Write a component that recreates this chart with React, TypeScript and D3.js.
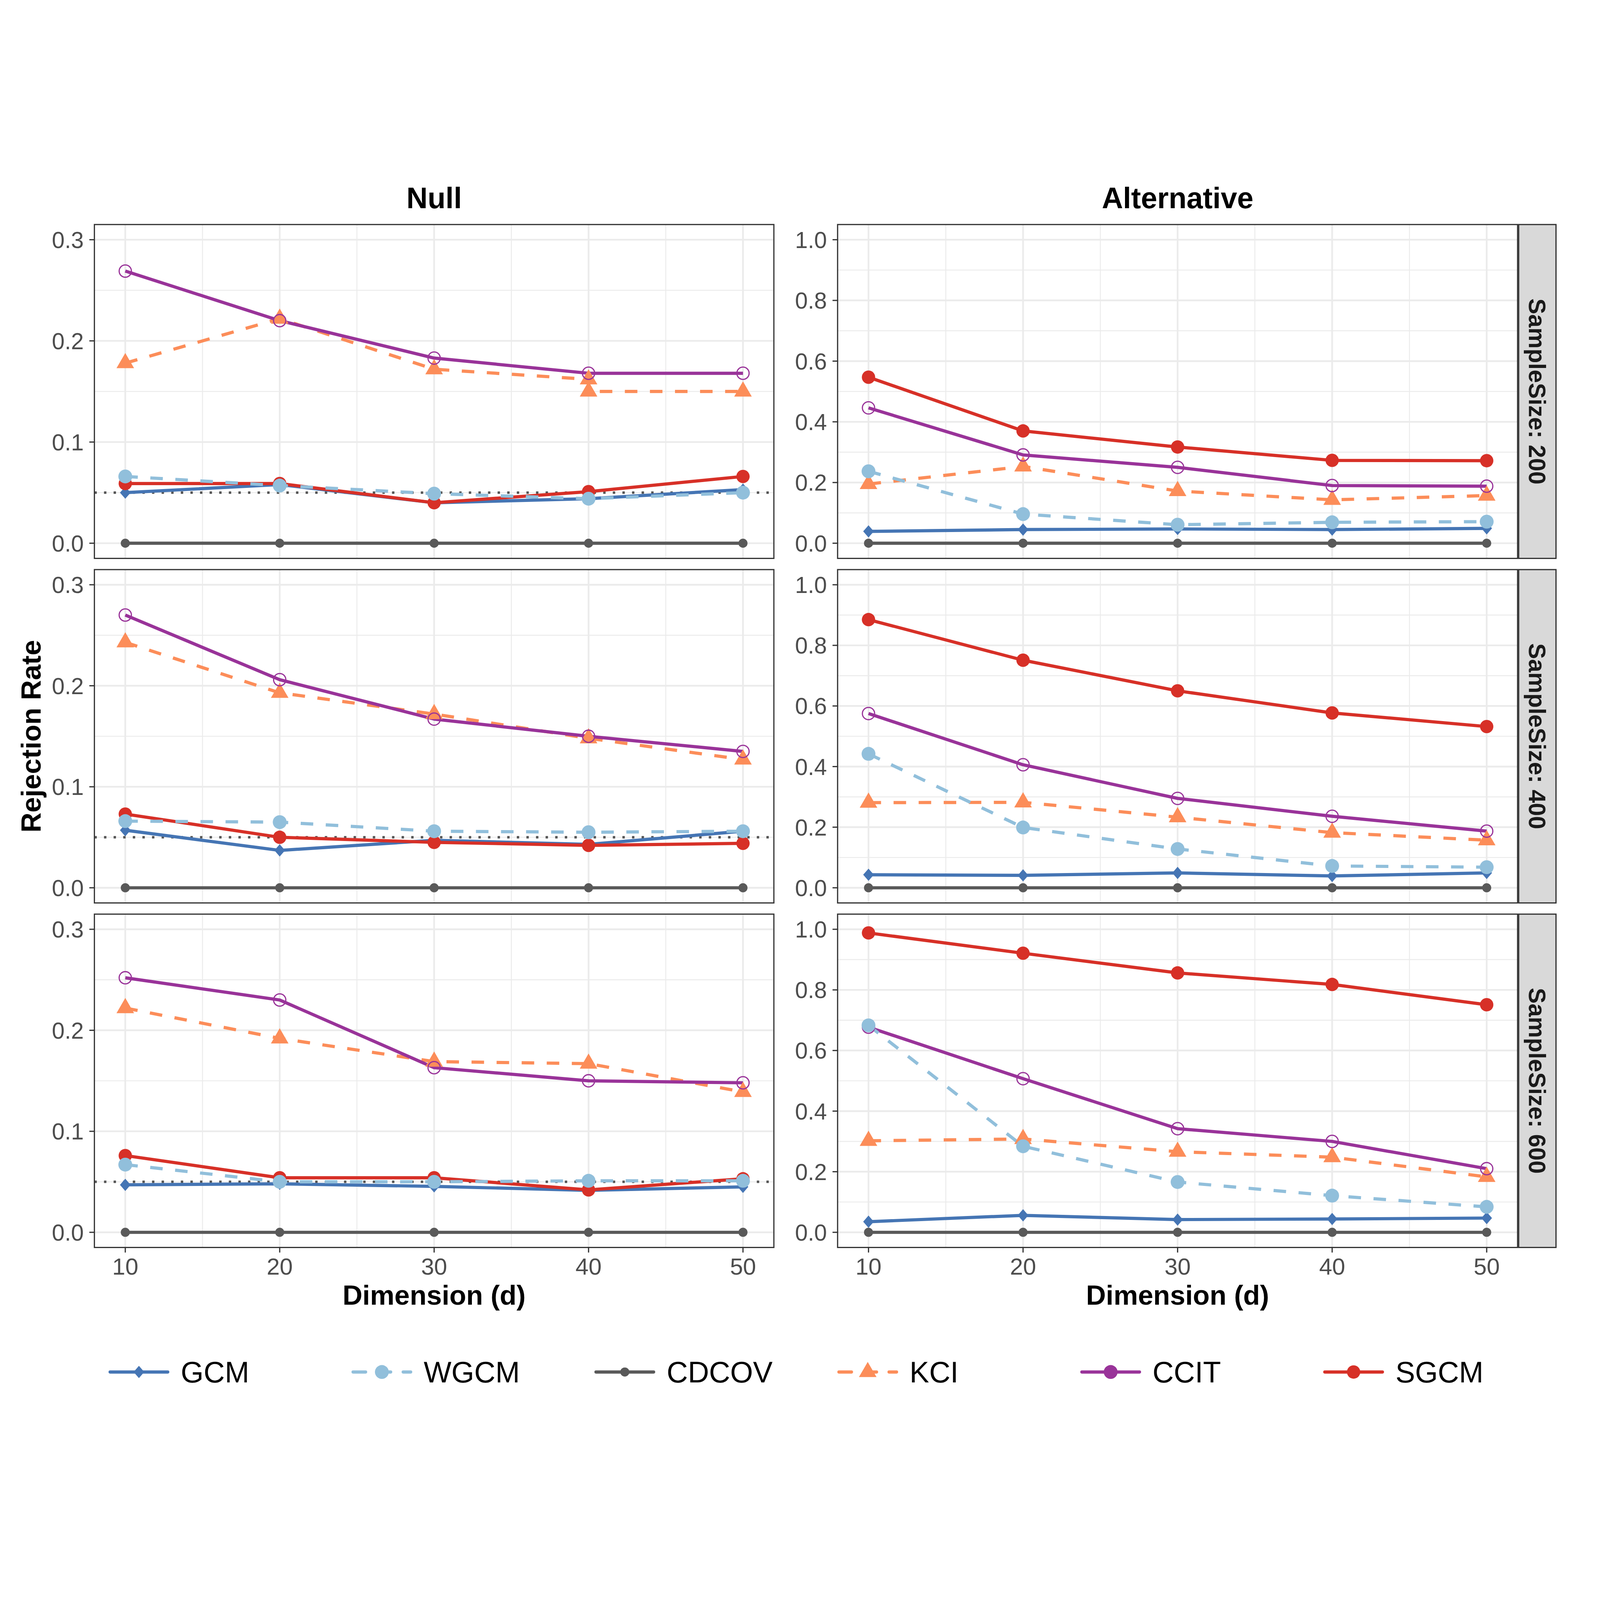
import React from "react";
import * as d3 from "d3";

// ---------- data ----------
const dims = [10, 20, 30, 40, 50];
const kciNull200Dims = [10, 20, 30, 40, 40, 50];
const hypotheses = ["Null", "Alternative"];
const sampleSizes = [200, 400, 600];
const methods = ["GCM", "WGCM", "CDCOV", "KCI", "CCIT", "SGCM"];
const drawOrder = ["CDCOV", "GCM", "KCI", "CCIT", "SGCM", "WGCM"];
const xTicks = [10, 20, 30, 40, 50];
const xMinor = [15, 25, 35, 45];
const nullTicks = [0, 0.1, 0.2, 0.3];
const nullMinor = [0.05, 0.15, 0.25];
const altTicks = [0, 0.2, 0.4, 0.6, 0.8, 1.0];
const altMinor = [0.1, 0.3, 0.5, 0.7, 0.9];
const nominalLevel = 0.05;

// rows: sample size 200, 400, 600
const gcmNull = [
  [0.050, 0.058, 0.040, 0.044, 0.053],
  [0.057, 0.037, 0.047, 0.043, 0.056],
  [0.047, 0.048, 0.0455, 0.0415, 0.045],
];
const gcmAlt = [
  [0.039, 0.045, 0.047, 0.045, 0.049],
  [0.043, 0.041, 0.049, 0.039, 0.049],
  [0.035, 0.056, 0.042, 0.044, 0.047],
];
const wgcmNull = [
  [0.066, 0.057, 0.049, 0.044, 0.050],
  [0.066, 0.065, 0.056, 0.055, 0.056],
  [0.067, 0.050, 0.050, 0.051, 0.051],
];
const wgcmAlt = [
  [0.237, 0.096, 0.061, 0.069, 0.071],
  [0.442, 0.199, 0.128, 0.072, 0.068],
  [0.683, 0.284, 0.166, 0.121, 0.084],
];
const cdcovNull = [
  [0, 0, 0, 0, 0],
  [0, 0, 0, 0, 0],
  [0, 0, 0, 0, 0],
];
const cdcovAlt = [
  [0, 0, 0, 0, 0],
  [0, 0, 0, 0, 0],
  [0, 0, 0, 0, 0],
];
const kciNull = [
  [0.178, 0.222, 0.172, 0.162, 0.150, 0.150],
  [0.243, 0.193, 0.172, 0.148, 0.127],
  [0.222, 0.192, 0.169, 0.167, 0.139],
];
const kciAlt = [
  [0.195, 0.253, 0.172, 0.143, 0.157],
  [0.281, 0.282, 0.233, 0.182, 0.157],
  [0.302, 0.308, 0.266, 0.248, 0.183],
];
const ccitNull = [
  [0.269, 0.220, 0.183, 0.168, 0.168],
  [0.270, 0.206, 0.167, 0.150, 0.135],
  [0.252, 0.230, 0.163, 0.150, 0.148],
];
const ccitAlt = [
  [0.446, 0.291, 0.250, 0.190, 0.188],
  [0.575, 0.406, 0.295, 0.236, 0.187],
  [0.677, 0.507, 0.342, 0.300, 0.210],
];
const sgcmNull = [
  [0.059, 0.059, 0.040, 0.051, 0.066],
  [0.073, 0.050, 0.045, 0.042, 0.044],
  [0.076, 0.054, 0.054, 0.042, 0.053],
];
const sgcmAlt = [
  [0.547, 0.370, 0.317, 0.273, 0.272],
  [0.885, 0.751, 0.650, 0.577, 0.532],
  [0.988, 0.921, 0.856, 0.818, 0.751],
];

const valueTable: Record<string, number[][][]> = {
  GCM: [gcmNull, gcmAlt],
  WGCM: [wgcmNull, wgcmAlt],
  CDCOV: [cdcovNull, cdcovAlt],
  KCI: [kciNull, kciAlt],
  CCIT: [ccitNull, ccitAlt],
  SGCM: [sgcmNull, sgcmAlt],
};

const colors: Record<string, string> = {
  GCM: "#4575B4",
  WGCM: "#91BFDB",
  CDCOV: "#595959",
  KCI: "#FC8D59",
  CCIT: "#993399",
  SGCM: "#D73027",
};
const dashed: Record<string, boolean> = {
  GCM: false, WGCM: true, CDCOV: false, KCI: true, CCIT: false, SGCM: false,
};

// ---------- layout ----------
const W = 6000;
const H = 4750;
const colX = [[354, 2902], [3141, 5691]];
const rowY = [[217, 1469], [1511, 2761], [2803, 4053]];
const FONT = "'Liberation Sans', Arial, Helvetica, sans-serif";

function Marker({ m, x, y, legend }: { m: string; x: number; y: number; legend?: boolean }) {
  const c = colors[m];
  if (m === "GCM") {
    const h = 23, w = 20;
    return <path d={`M${x},${y - h}L${x + w},${y}L${x},${y + h}L${x - w},${y}Z`} fill={c} />;
  }
  if (m === "WGCM") return <circle cx={x} cy={y} r={26} fill={c} />;
  if (m === "CDCOV") return <circle cx={x} cy={y} r={17} fill={c} />;
  if (m === "SGCM") return <circle cx={x} cy={y} r={25} fill={c} />;
  if (m === "KCI") {
    return <path d={`M${x},${y - 38}L${x + 33},${y + 19}L${x - 33},${y + 19}Z`} fill={c} />;
  }
  if (m === "CCIT") {
    if (legend) return <circle cx={x} cy={y} r={26} fill={c} />;
    return <circle cx={x} cy={y} r={23} fill="none" stroke={c} strokeWidth={4.5} />;
  }
  return null;
}

function Panel({ h, r }: { h: number; r: number }) {
  const [x0, x1] = colX[h];
  const [y0, y1] = rowY[r];
  const x = d3.scaleLinear().domain([8, 52]).range([x0, x1]);
  const isNull = h === 0;
  const y = d3.scaleLinear().domain(isNull ? [-0.015, 0.315] : [-0.05, 1.05]).range([y1, y0]);
  const ticks = isNull ? nullTicks : altTicks;
  const minor = isNull ? nullMinor : altMinor;
  const grid = "#EBEBEB";

  const seriesFor = (m: string) => {
    const vals = valueTable[m][h][r];
    const xs = vals.length === dims.length ? dims : kciNull200Dims;
    return vals.map((v, i) => [xs[i], v] as [number, number]);
  };
  const line = d3.line<[number, number]>().x((d) => x(d[0])).y((d) => y(d[1]));

  return (
    <g>
      <rect x={x0} y={y0} width={x1 - x0} height={y1 - y0} fill="#FFFFFF" />
      {minor.map((t) => (
        <line key={"hm" + t} x1={x0} x2={x1} y1={y(t)} y2={y(t)} stroke={grid} strokeWidth={3.5} />
      ))}
      {xMinor.map((t) => (
        <line key={"vm" + t} x1={x(t)} x2={x(t)} y1={y0} y2={y1} stroke={grid} strokeWidth={3.5} />
      ))}
      {ticks.map((t) => (
        <line key={"hM" + t} x1={x0} x2={x1} y1={y(t)} y2={y(t)} stroke={grid} strokeWidth={6.5} />
      ))}
      {xTicks.map((t) => (
        <line key={"vM" + t} x1={x(t)} x2={x(t)} y1={y0} y2={y1} stroke={grid} strokeWidth={6.5} />
      ))}
      {isNull && (
        <line x1={x0} x2={x1} y1={y(nominalLevel)} y2={y(nominalLevel)} stroke="#555555"
          strokeWidth={9} strokeDasharray="9,27" />
      )}
      {drawOrder.map((m) => (
        <path key={"l" + m} d={line(seriesFor(m)) || ""} fill="none" stroke={colors[m]}
          strokeWidth={12} strokeLinejoin="round" strokeLinecap="butt"
          strokeDasharray={dashed[m] ? "47,47" : undefined} />
      ))}
      {drawOrder.map((m) => (
        <g key={"p" + m}>
          {seriesFor(m).map((d, i) => (
            <Marker key={i} m={m} x={x(d[0])} y={y(d[1])} />
          ))}
        </g>
      ))}
      <rect x={x0} y={y0} width={x1 - x0} height={y1 - y0} fill="none" stroke="#333333" strokeWidth={4.5} />
      {ticks.map((t) => (
        <g key={"yt" + t}>
          <line x1={x0 - 19} x2={x0} y1={y(t)} y2={y(t)} stroke="#333333" strokeWidth={4.5} />
          <text x={x0 - 40} y={y(t) + 31} textAnchor="end" fontSize={86} fill="#4D4D4D" fontFamily={FONT}>
            {d3.format(".1f")(t)}
          </text>
        </g>
      ))}
      {r === rowY.length - 1 &&
        xTicks.map((t) => (
          <g key={"xt" + t}>
            <line x1={x(t)} x2={x(t)} y1={y1} y2={y1 + 19} stroke="#333333" strokeWidth={4.5} />
            <text x={x(t)} y={4155} textAnchor="middle" fontSize={88} fill="#4D4D4D" fontFamily={FONT}>
              {t}
            </text>
          </g>
        ))}
    </g>
  );
}

export default function App() {
  const stripX0 = 5695;
  const stripX1 = 5835;
  return (
    <svg viewBox={`0 0 ${W} ${H}`} preserveAspectRatio="xMidYMid meet"
      style={{ position: "fixed", left: 0, top: 0, width: "100vw", height: "100vh", display: "block", background: "#FFFFFF" }}>
      <rect x={0} y={0} width={W} height={H} fill="#FFFFFF" />
      {hypotheses.map((hy, h) => (
        <text key={hy} x={(colX[h][0] + colX[h][1]) / 2} y={156} textAnchor="middle" fontSize={110}
          fontWeight="bold" fill="#000000" fontFamily={FONT}>
          {hy}
        </text>
      ))}
      {hypotheses.map((hy, h) =>
        sampleSizes.map((n, r) => <Panel key={hy + n} h={h} r={r} />)
      )}
      {sampleSizes.map((n, r) => {
        const [y0, y1] = rowY[r];
        const cy = (y0 + y1) / 2;
        return (
          <g key={"s" + n}>
            <rect x={stripX0} y={y0} width={stripX1 - stripX0} height={y1 - y0} fill="#D9D9D9"
              stroke="#333333" strokeWidth={4.5} />
            <text transform={`translate(5733,${cy}) rotate(90)`} textAnchor="middle" fontSize={89}
              fontWeight="bold" fill="#1A1A1A" fontFamily={FONT}>
              {`SampleSize: ${n}`}
            </text>
          </g>
        );
      })}
      <text transform={`translate(152,${(rowY[1][0] + rowY[1][1]) / 2}) rotate(-90)`} textAnchor="middle"
        fontSize={104} fontWeight="bold" fill="#000000" fontFamily={FONT}>
        Rejection Rate
      </text>
      {hypotheses.map((hy, h) => (
        <text key={"xl" + hy} x={(colX[h][0] + colX[h][1]) / 2} y={4268} textAnchor="middle" fontSize={103}
          fontWeight="bold" fill="#000000" fontFamily={FONT}>
          Dimension (d)
        </text>
      ))}
      {methods.map((m, i) => {
        const kx = 413 + i * 911;
        const ky = 4520;
        return (
          <g key={"lg" + m}>
            <line x1={kx} x2={kx + 216} y1={ky} y2={ky} stroke={colors[m]} strokeWidth={12}
              strokeLinecap="round" strokeDasharray={dashed[m] ? "47,47" : undefined} />
            <Marker m={m} x={kx + 108} y={ky} legend />
            <text x={kx + 265} y={4559} fontSize={110} fill="#000000" fontFamily={FONT}>
              {m}
            </text>
          </g>
        );
      })}
    </svg>
  );
}
